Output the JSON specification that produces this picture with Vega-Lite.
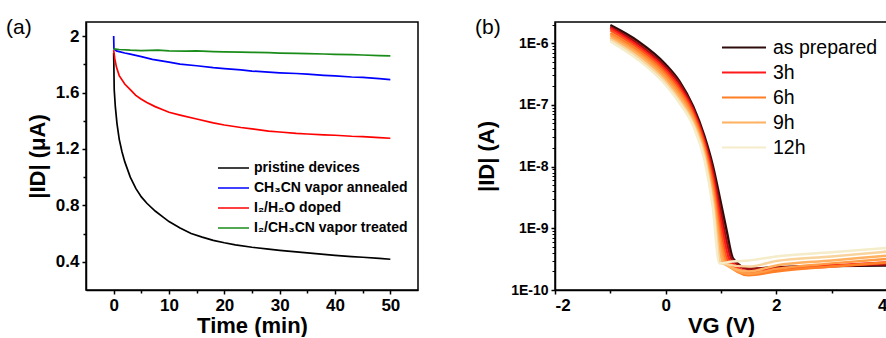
{
  "$schema": "https://vega.github.io/schema/vega-lite/v6.json",
  "padding": {"left": 5, "top": 15, "right": 0, "bottom": 0},
  "spacing": 55,
  "background": "white",
  "resolve": {"scale": {"color": "independent"}, "legend": {"color": "independent"}},
  "config": {
    "font": "Liberation Sans",
    "view": {"stroke": "black", "strokeWidth": 1.5},
    "axis": {
      "grid": false, "domainColor": "black", "domainWidth": 1.5, "tickColor": "black", "tickWidth": 1.5, "tickSize": 4,
      "labelFont": "Liberation Sans", "labelFontWeight": "bold", "labelFontSize": 17, "labelColor": "black", "labelPadding": 3,
      "titleFont": "Liberation Sans", "titleFontWeight": "bold", "titleFontSize": 22, "titleColor": "black"
    },
    "legend": {"labelFont": "Liberation Sans", "labelColor": "black"},
    "title": {"font": "Liberation Sans", "fontWeight": "normal", "fontSize": 21, "color": "black", "anchor": "start", "frame": "group"}
  },
  "datasets": {
    "a": [
      {"t": 0, "I": 1.88, "s": "pristine devices"}, {"t": 0.1, "I": 1.62, "s": "pristine devices"}, {"t": 0.3, "I": 1.5, "s": "pristine devices"}, {"t": 0.6, "I": 1.38, "s": "pristine devices"}, {"t": 1, "I": 1.27, "s": "pristine devices"}, {"t": 1.5, "I": 1.18, "s": "pristine devices"}, {"t": 2, "I": 1.11, "s": "pristine devices"}, {"t": 3, "I": 1.0, "s": "pristine devices"}, {"t": 4, "I": 0.92, "s": "pristine devices"}, {"t": 5, "I": 0.86, "s": "pristine devices"}, {"t": 6, "I": 0.815, "s": "pristine devices"}, {"t": 7.5, "I": 0.76, "s": "pristine devices"}, {"t": 9, "I": 0.715, "s": "pristine devices"}, {"t": 10, "I": 0.685, "s": "pristine devices"}, {"t": 12, "I": 0.64, "s": "pristine devices"}, {"t": 14, "I": 0.6, "s": "pristine devices"}, {"t": 16, "I": 0.575, "s": "pristine devices"}, {"t": 18, "I": 0.552, "s": "pristine devices"}, {"t": 20, "I": 0.535, "s": "pristine devices"}, {"t": 22, "I": 0.52, "s": "pristine devices"}, {"t": 25, "I": 0.503, "s": "pristine devices"}, {"t": 28, "I": 0.49, "s": "pristine devices"}, {"t": 30, "I": 0.481, "s": "pristine devices"}, {"t": 33, "I": 0.47, "s": "pristine devices"}, {"t": 35, "I": 0.463, "s": "pristine devices"}, {"t": 38, "I": 0.452, "s": "pristine devices"}, {"t": 40, "I": 0.446, "s": "pristine devices"}, {"t": 43, "I": 0.437, "s": "pristine devices"}, {"t": 45, "I": 0.432, "s": "pristine devices"}, {"t": 48, "I": 0.424, "s": "pristine devices"}, {"t": 50, "I": 0.418, "s": "pristine devices"},
      {"t": 0, "I": 2.0, "s": "CH₃CN vapor annealed"}, {"t": 0.05, "I": 1.91, "s": "CH₃CN vapor annealed"}, {"t": 0.5, "I": 1.895, "s": "CH₃CN vapor annealed"}, {"t": 1, "I": 1.89, "s": "CH₃CN vapor annealed"}, {"t": 2, "I": 1.88, "s": "CH₃CN vapor annealed"}, {"t": 3, "I": 1.872, "s": "CH₃CN vapor annealed"}, {"t": 5, "I": 1.855, "s": "CH₃CN vapor annealed"}, {"t": 7, "I": 1.835, "s": "CH₃CN vapor annealed"}, {"t": 10, "I": 1.815, "s": "CH₃CN vapor annealed"}, {"t": 12, "I": 1.802, "s": "CH₃CN vapor annealed"}, {"t": 15, "I": 1.79, "s": "CH₃CN vapor annealed"}, {"t": 18, "I": 1.776, "s": "CH₃CN vapor annealed"}, {"t": 20, "I": 1.77, "s": "CH₃CN vapor annealed"}, {"t": 23, "I": 1.76, "s": "CH₃CN vapor annealed"}, {"t": 25, "I": 1.752, "s": "CH₃CN vapor annealed"}, {"t": 28, "I": 1.745, "s": "CH₃CN vapor annealed"}, {"t": 30, "I": 1.74, "s": "CH₃CN vapor annealed"}, {"t": 33, "I": 1.735, "s": "CH₃CN vapor annealed"}, {"t": 35, "I": 1.73, "s": "CH₃CN vapor annealed"}, {"t": 38, "I": 1.722, "s": "CH₃CN vapor annealed"}, {"t": 40, "I": 1.718, "s": "CH₃CN vapor annealed"}, {"t": 43, "I": 1.71, "s": "CH₃CN vapor annealed"}, {"t": 45, "I": 1.707, "s": "CH₃CN vapor annealed"}, {"t": 48, "I": 1.699, "s": "CH₃CN vapor annealed"}, {"t": 50, "I": 1.692, "s": "CH₃CN vapor annealed"},
      {"t": 0, "I": 1.9, "s": "I₂/H₂O doped"}, {"t": 0.2, "I": 1.84, "s": "I₂/H₂O doped"}, {"t": 0.5, "I": 1.78, "s": "I₂/H₂O doped"}, {"t": 1, "I": 1.72, "s": "I₂/H₂O doped"}, {"t": 2, "I": 1.66, "s": "I₂/H₂O doped"}, {"t": 3, "I": 1.62, "s": "I₂/H₂O doped"}, {"t": 4, "I": 1.58, "s": "I₂/H₂O doped"}, {"t": 5, "I": 1.552, "s": "I₂/H₂O doped"}, {"t": 6, "I": 1.53, "s": "I₂/H₂O doped"}, {"t": 7.5, "I": 1.5, "s": "I₂/H₂O doped"}, {"t": 9, "I": 1.476, "s": "I₂/H₂O doped"}, {"t": 10, "I": 1.46, "s": "I₂/H₂O doped"}, {"t": 12, "I": 1.44, "s": "I₂/H₂O doped"}, {"t": 15, "I": 1.412, "s": "I₂/H₂O doped"}, {"t": 18, "I": 1.385, "s": "I₂/H₂O doped"}, {"t": 20, "I": 1.37, "s": "I₂/H₂O doped"}, {"t": 23, "I": 1.352, "s": "I₂/H₂O doped"}, {"t": 25, "I": 1.342, "s": "I₂/H₂O doped"}, {"t": 28, "I": 1.327, "s": "I₂/H₂O doped"}, {"t": 30, "I": 1.32, "s": "I₂/H₂O doped"}, {"t": 33, "I": 1.31, "s": "I₂/H₂O doped"}, {"t": 35, "I": 1.306, "s": "I₂/H₂O doped"}, {"t": 38, "I": 1.3, "s": "I₂/H₂O doped"}, {"t": 40, "I": 1.297, "s": "I₂/H₂O doped"}, {"t": 43, "I": 1.29, "s": "I₂/H₂O doped"}, {"t": 45, "I": 1.288, "s": "I₂/H₂O doped"}, {"t": 48, "I": 1.28, "s": "I₂/H₂O doped"}, {"t": 50, "I": 1.276, "s": "I₂/H₂O doped"},
      {"t": 0, "I": 1.91, "s": "I₂/CH₃CN vapor treated"}, {"t": 1, "I": 1.905, "s": "I₂/CH₃CN vapor treated"}, {"t": 3, "I": 1.9, "s": "I₂/CH₃CN vapor treated"}, {"t": 5, "I": 1.897, "s": "I₂/CH₃CN vapor treated"}, {"t": 8, "I": 1.9, "s": "I₂/CH₃CN vapor treated"}, {"t": 10, "I": 1.895, "s": "I₂/CH₃CN vapor treated"}, {"t": 13, "I": 1.893, "s": "I₂/CH₃CN vapor treated"}, {"t": 15, "I": 1.895, "s": "I₂/CH₃CN vapor treated"}, {"t": 18, "I": 1.89, "s": "I₂/CH₃CN vapor treated"}, {"t": 20, "I": 1.888, "s": "I₂/CH₃CN vapor treated"}, {"t": 23, "I": 1.887, "s": "I₂/CH₃CN vapor treated"}, {"t": 25, "I": 1.885, "s": "I₂/CH₃CN vapor treated"}, {"t": 28, "I": 1.883, "s": "I₂/CH₃CN vapor treated"}, {"t": 30, "I": 1.88, "s": "I₂/CH₃CN vapor treated"}, {"t": 33, "I": 1.878, "s": "I₂/CH₃CN vapor treated"}, {"t": 35, "I": 1.876, "s": "I₂/CH₃CN vapor treated"}, {"t": 38, "I": 1.873, "s": "I₂/CH₃CN vapor treated"}, {"t": 40, "I": 1.87, "s": "I₂/CH₃CN vapor treated"}, {"t": 43, "I": 1.868, "s": "I₂/CH₃CN vapor treated"}, {"t": 45, "I": 1.866, "s": "I₂/CH₃CN vapor treated"}, {"t": 48, "I": 1.862, "s": "I₂/CH₃CN vapor treated"}, {"t": 50, "I": 1.86, "s": "I₂/CH₃CN vapor treated"}
    ],
    "b": [
      {"c": "as prepared", "k": 0, "V": -1, "I": 1.95e-6}, {"c": "as prepared", "k": 0, "V": -0.5, "I": 1.07e-6}, {"c": "as prepared", "k": 0, "V": 0, "I": 4.5e-7}, {"c": "as prepared", "k": 0, "V": 0.25, "I": 2.4e-7}, {"c": "as prepared", "k": 0, "V": 0.5, "I": 9.3e-8}, {"c": "as prepared", "k": 0, "V": 0.7, "I": 3.1e-8}, {"c": "as prepared", "k": 0, "V": 0.85, "I": 1.05e-8}, {"c": "as prepared", "k": 0, "V": 1.0, "I": 2.5e-9}, {"c": "as prepared", "k": 0, "V": 1.1, "I": 9.3e-10}, {"c": "as prepared", "k": 0, "V": 1.22, "I": 3.2e-10}, {"c": "as prepared", "k": 0, "V": 1.5, "I": 2.2e-10}, {"c": "as prepared", "k": 0, "V": 2, "I": 2.35e-10}, {"c": "as prepared", "k": 0, "V": 3, "I": 2.45e-10}, {"c": "as prepared", "k": 0, "V": 4, "I": 2.5e-10},
      {"c": "1.5h", "k": 1, "V": -1, "I": 1.82e-6}, {"c": "1.5h", "k": 1, "V": -0.5, "I": 9.8e-7}, {"c": "1.5h", "k": 1, "V": 0, "I": 4.1e-7}, {"c": "1.5h", "k": 1, "V": 0.25, "I": 2.2e-7}, {"c": "1.5h", "k": 1, "V": 0.5, "I": 8.5e-8}, {"c": "1.5h", "k": 1, "V": 0.7, "I": 2.75e-8}, {"c": "1.5h", "k": 1, "V": 0.85, "I": 8.7e-9}, {"c": "1.5h", "k": 1, "V": 1.0, "I": 1.78e-9}, {"c": "1.5h", "k": 1, "V": 1.1, "I": 6.3e-10}, {"c": "1.5h", "k": 1, "V": 1.19, "I": 3.2e-10}, {"c": "1.5h", "k": 1, "V": 1.5, "I": 2.2e-10}, {"c": "1.5h", "k": 1, "V": 2, "I": 2.3e-10}, {"c": "1.5h", "k": 1, "V": 3, "I": 2.5e-10}, {"c": "1.5h", "k": 1, "V": 4, "I": 2.6e-10},
      {"c": "3h", "k": 2, "V": -1, "I": 1.74e-6}, {"c": "3h", "k": 2, "V": -0.5, "I": 8.9e-7}, {"c": "3h", "k": 2, "V": 0, "I": 3.7e-7}, {"c": "3h", "k": 2, "V": 0.25, "I": 1.95e-7}, {"c": "3h", "k": 2, "V": 0.5, "I": 7.8e-8}, {"c": "3h", "k": 2, "V": 0.7, "I": 2.5e-8}, {"c": "3h", "k": 2, "V": 0.85, "I": 7.1e-9}, {"c": "3h", "k": 2, "V": 1.0, "I": 1.26e-9}, {"c": "3h", "k": 2, "V": 1.1, "I": 4.5e-10}, {"c": "3h", "k": 2, "V": 1.16, "I": 3.0e-10}, {"c": "3h", "k": 2, "V": 1.5, "I": 2.0e-10}, {"c": "3h", "k": 2, "V": 2, "I": 2.2e-10}, {"c": "3h", "k": 2, "V": 3, "I": 2.5e-10}, {"c": "3h", "k": 2, "V": 4, "I": 2.8e-10},
      {"c": "4.5h", "k": 3, "V": -1, "I": 1.62e-6}, {"c": "4.5h", "k": 3, "V": -0.5, "I": 8.3e-7}, {"c": "4.5h", "k": 3, "V": 0, "I": 3.4e-7}, {"c": "4.5h", "k": 3, "V": 0.25, "I": 1.78e-7}, {"c": "4.5h", "k": 3, "V": 0.5, "I": 7.1e-8}, {"c": "4.5h", "k": 3, "V": 0.7, "I": 2.24e-8}, {"c": "4.5h", "k": 3, "V": 0.85, "I": 5.9e-9}, {"c": "4.5h", "k": 3, "V": 1.0, "I": 8.9e-10}, {"c": "4.5h", "k": 3, "V": 1.1, "I": 3.3e-10}, {"c": "4.5h", "k": 3, "V": 1.13, "I": 2.95e-10}, {"c": "4.5h", "k": 3, "V": 1.5, "I": 1.86e-10}, {"c": "4.5h", "k": 3, "V": 2, "I": 2.1e-10}, {"c": "4.5h", "k": 3, "V": 3, "I": 2.4e-10}, {"c": "4.5h", "k": 3, "V": 4, "I": 2.75e-10},
      {"c": "6h", "k": 4, "V": -1, "I": 1.45e-6}, {"c": "6h", "k": 4, "V": -0.5, "I": 7.6e-7}, {"c": "6h", "k": 4, "V": 0, "I": 3.1e-7}, {"c": "6h", "k": 4, "V": 0.25, "I": 1.62e-7}, {"c": "6h", "k": 4, "V": 0.5, "I": 6.5e-8}, {"c": "6h", "k": 4, "V": 0.7, "I": 2.0e-8}, {"c": "6h", "k": 4, "V": 0.85, "I": 4.9e-9}, {"c": "6h", "k": 4, "V": 1.0, "I": 6.3e-10}, {"c": "6h", "k": 4, "V": 1.1, "I": 2.8e-10}, {"c": "6h", "k": 4, "V": 1.5, "I": 1.74e-10}, {"c": "6h", "k": 4, "V": 2, "I": 2.0e-10}, {"c": "6h", "k": 4, "V": 3, "I": 2.4e-10}, {"c": "6h", "k": 4, "V": 4, "I": 2.8e-10},
      {"c": "7.5h", "k": 5, "V": -1, "I": 1.35e-6}, {"c": "7.5h", "k": 5, "V": -0.5, "I": 6.9e-7}, {"c": "7.5h", "k": 5, "V": 0, "I": 2.8e-7}, {"c": "7.5h", "k": 5, "V": 0.25, "I": 1.45e-7}, {"c": "7.5h", "k": 5, "V": 0.5, "I": 5.9e-8}, {"c": "7.5h", "k": 5, "V": 0.7, "I": 1.78e-8}, {"c": "7.5h", "k": 5, "V": 0.85, "I": 4.0e-9}, {"c": "7.5h", "k": 5, "V": 1.0, "I": 4.7e-10}, {"c": "7.5h", "k": 5, "V": 1.07, "I": 2.75e-10}, {"c": "7.5h", "k": 5, "V": 1.5, "I": 1.82e-10}, {"c": "7.5h", "k": 5, "V": 2, "I": 2.2e-10}, {"c": "7.5h", "k": 5, "V": 3, "I": 2.7e-10}, {"c": "7.5h", "k": 5, "V": 4, "I": 3.2e-10},
      {"c": "9h", "k": 6, "V": -1, "I": 1.23e-6}, {"c": "9h", "k": 6, "V": -0.5, "I": 6.5e-7}, {"c": "9h", "k": 6, "V": 0, "I": 2.5e-7}, {"c": "9h", "k": 6, "V": 0.25, "I": 1.32e-7}, {"c": "9h", "k": 6, "V": 0.5, "I": 5.4e-8}, {"c": "9h", "k": 6, "V": 0.7, "I": 1.62e-8}, {"c": "9h", "k": 6, "V": 0.85, "I": 3.3e-9}, {"c": "9h", "k": 6, "V": 1.0, "I": 3.5e-10}, {"c": "9h", "k": 6, "V": 1.04, "I": 2.7e-10}, {"c": "9h", "k": 6, "V": 1.5, "I": 2.0e-10}, {"c": "9h", "k": 6, "V": 2, "I": 2.5e-10}, {"c": "9h", "k": 6, "V": 3, "I": 3.0e-10}, {"c": "9h", "k": 6, "V": 4, "I": 3.6e-10},
      {"c": "10.5h", "k": 7, "V": -1, "I": 1.15e-6}, {"c": "10.5h", "k": 7, "V": -0.5, "I": 5.9e-7}, {"c": "10.5h", "k": 7, "V": 0, "I": 2.3e-7}, {"c": "10.5h", "k": 7, "V": 0.25, "I": 1.17e-7}, {"c": "10.5h", "k": 7, "V": 0.5, "I": 4.9e-8}, {"c": "10.5h", "k": 7, "V": 0.7, "I": 1.45e-8}, {"c": "10.5h", "k": 7, "V": 0.85, "I": 2.7e-9}, {"c": "10.5h", "k": 7, "V": 1.0, "I": 2.7e-10}, {"c": "10.5h", "k": 7, "V": 1.5, "I": 2.4e-10}, {"c": "10.5h", "k": 7, "V": 2, "I": 2.95e-10}, {"c": "10.5h", "k": 7, "V": 3, "I": 3.5e-10}, {"c": "10.5h", "k": 7, "V": 4, "I": 4.2e-10},
      {"c": "12h", "k": 8, "V": -1, "I": 1.07e-6}, {"c": "12h", "k": 8, "V": -0.5, "I": 5.4e-7}, {"c": "12h", "k": 8, "V": 0, "I": 2.1e-7}, {"c": "12h", "k": 8, "V": 0.25, "I": 1.07e-7}, {"c": "12h", "k": 8, "V": 0.5, "I": 4.5e-8}, {"c": "12h", "k": 8, "V": 0.7, "I": 1.29e-8}, {"c": "12h", "k": 8, "V": 0.85, "I": 2.24e-9}, {"c": "12h", "k": 8, "V": 0.97, "I": 2.7e-10}, {"c": "12h", "k": 8, "V": 1.2, "I": 2.9e-10}, {"c": "12h", "k": 8, "V": 1.5, "I": 3.0e-10}, {"c": "12h", "k": 8, "V": 2, "I": 3.5e-10}, {"c": "12h", "k": 8, "V": 3, "I": 4.1e-10}, {"c": "12h", "k": 8, "V": 4, "I": 4.8e-10}
    ]
  },
  "hconcat": [
    {
      "width": 332, "height": 268,
      "title": {"text": "(a)", "dx": -80, "dy": 36.5, "baseline": "alphabetic"},
      "data": {"name": "a"},
      "resolve": {"axis": {"x": "independent", "y": "independent"}},
      "layer": [
        {
          "mark": {"type": "line", "strokeWidth": 1.7, "clip": true},
          "encoding": {
            "x": {"field": "t", "type": "quantitative", "scale": {"domain": [-5, 55], "nice": false}, "axis": {"orient": "bottom", "values": [0, 10, 20, 30, 40, 50], "title": "Time (min)", "titlePadding": 2}},
            "y": {"field": "I", "type": "quantitative", "scale": {"domain": [0.2, 2.1], "nice": false, "zero": false}, "axis": {"orient": "left", "values": [0.4, 0.8, 1.2, 1.6, 2.0], "format": ".2~f", "title": "|ID| (μA)", "titlePadding": 6}},
            "color": {"field": "s", "type": "nominal",
              "scale": {"domain": ["pristine devices", "CH₃CN vapor annealed", "I₂/H₂O doped", "I₂/CH₃CN vapor treated"], "range": ["#000000", "#0000ff", "#ff0000", "#1a8c1a"]},
              "legend": {"title": null, "orient": "none", "legendX": 131, "legendY": 139, "symbolType": "stroke", "symbolSize": 961, "symbolStrokeWidth": 1.5, "clipHeight": 14, "rowPadding": 6, "labelFontSize": 14, "labelFontWeight": "bold", "labelOffset": 4, "labelLimit": 300}}
          }
        },
        {
          "mark": {"type": "line", "opacity": 0, "clip": true},
          "encoding": {
            "x": {"field": "t", "type": "quantitative", "axis": {"orient": "bottom", "values": [5, 15, 25, 35, 45], "labels": false, "domain": false, "title": null, "tickSize": 3}},
            "y": {"field": "I", "type": "quantitative", "axis": {"orient": "left", "values": [0.6, 1.0, 1.4, 1.8], "labels": false, "domain": false, "title": null, "tickSize": 3}}
          }
        }
      ]
    },
    {
      "width": 332, "height": 268,
      "title": {"text": "(b)", "dx": -80, "dy": 36.5, "baseline": "alphabetic"},
      "data": {"name": "b"},
      "resolve": {"axis": {"x": "independent", "y": "independent"}},
      "layer": [
        {
          "mark": {"type": "line", "strokeWidth": 2.5, "interpolate": "monotone", "clip": true},
          "encoding": {
            "x": {"field": "V", "type": "quantitative", "scale": {"domain": [-2, 4], "nice": false}, "axis": {"orient": "bottom", "values": [-2, 0, 2, 4], "labelExpr": "'' + datum.value", "title": "VG (V)", "titlePadding": 2}},
            "y": {"field": "I", "type": "quantitative", "scale": {"type": "log", "domain": [1e-10, 2.2e-6], "nice": false}, "axis": {"orient": "left", "values": [1e-10, 1e-9, 1e-8, 1e-7, 1e-6], "labelExpr": "'1E' + round(log(datum.value)/LN10)", "labelFontSize": 14, "title": "|ID| (A)", "titlePadding": 12}},
            "order": {"field": "k", "type": "quantitative", "sort": "descending"},
            "color": {"field": "c", "type": "nominal",
              "scale": {"domain": ["as prepared", "1.5h", "3h", "4.5h", "6h", "7.5h", "9h", "10.5h", "12h"], "range": ["#2e0c0c", "#a01010", "#ff1a1a", "#ff5020", "#ff7f27", "#ff9a45", "#ffb060", "#f8d39c", "#f5ecca"]},
              "legend": {"title": null, "values": ["as prepared", "3h", "6h", "9h", "12h"], "orient": "none", "legendX": 166, "legendY": 15, "symbolType": "stroke", "symbolSize": 1936, "symbolStrokeWidth": 2, "clipHeight": 21, "rowPadding": 4, "labelFontSize": 19.5, "labelOffset": 6, "labelLimit": 300}}
          }
        },
        {
          "mark": {"type": "line", "opacity": 0, "clip": true},
          "encoding": {
            "x": {"field": "V", "type": "quantitative", "axis": {"orient": "bottom", "values": [-1, 1, 3], "labels": false, "domain": false, "title": null, "tickSize": 3}},
            "y": {"field": "I", "type": "quantitative", "axis": {"orient": "left", "values": [2e-10, 3e-10, 4e-10, 5e-10, 6e-10, 7e-10, 8e-10, 9e-10, 2e-9, 3e-9, 4e-9, 5e-9, 6e-9, 7e-9, 8e-9, 9e-9, 2e-8, 3e-8, 4e-8, 5e-8, 6e-8, 7e-8, 8e-8, 9e-8, 2e-7, 3e-7, 4e-7, 5e-7, 6e-7, 7e-7, 8e-7, 9e-7, 2e-6], "labels": false, "domain": false, "title": null, "tickSize": 3, "tickWidth": 1}}
          }
        }
      ]
    }
  ]
}
